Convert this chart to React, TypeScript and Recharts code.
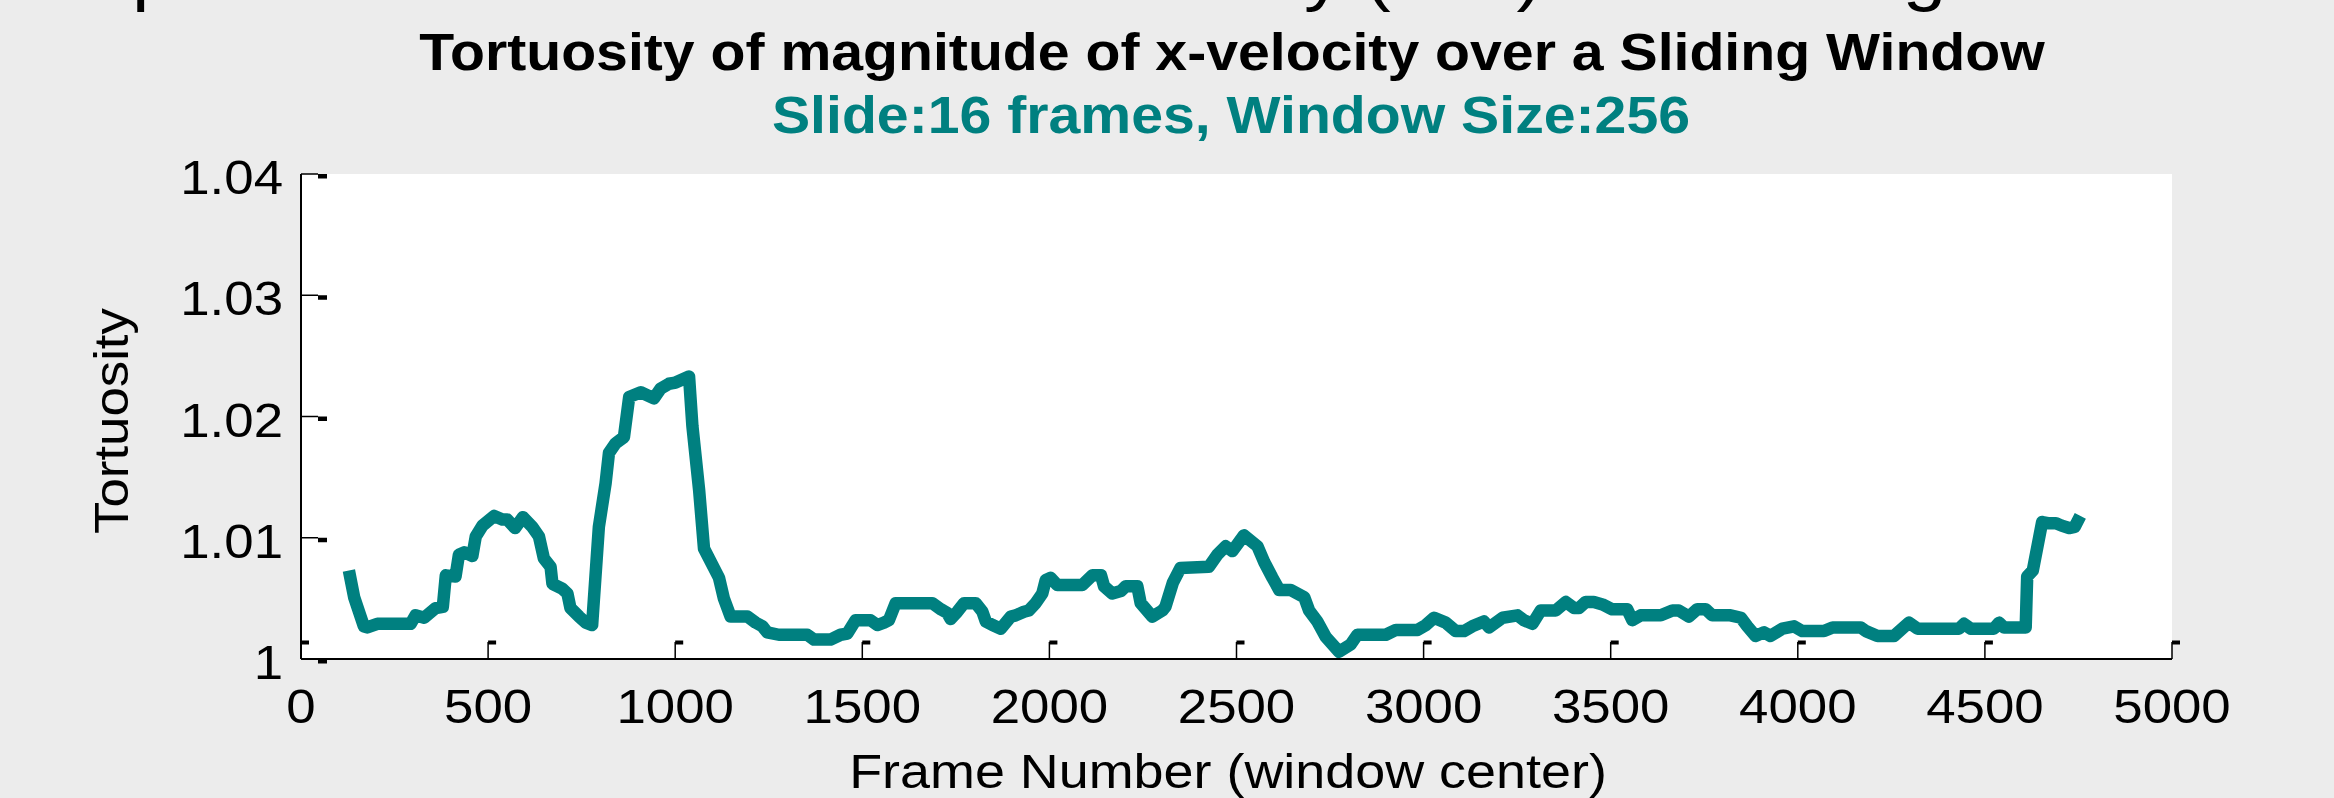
import { CartesianGrid, Line, LineChart, XAxis, YAxis } from 'recharts';

// frame number of the window centre
const frames = [
  128, 142, 168, 177, 204, 293, 306, 329, 360, 379, 387, 413, 422, 436, 458, 467, 485, 516, 538, 551,
  572, 593, 618, 636, 649, 667, 672, 698, 712, 720, 743, 761, 778, 796, 814, 823, 841, 863, 877, 908,
  943, 961, 983, 1001, 1037, 1046, 1064, 1077, 1117, 1130, 1148, 1193, 1215, 1233, 1246, 1277, 1353, 1371, 1415, 1442,
  1460, 1482, 1522, 1540, 1558, 1571, 1589, 1687, 1710, 1727, 1736, 1754, 1772, 1803, 1821, 1830, 1848, 1870, 1897, 1910,
  1932, 1945, 1963, 1981, 1990, 2003, 2021, 2088, 2115, 2138, 2146, 2168, 2191, 2204, 2235, 2244, 2275, 2302, 2310, 2330,
  2350, 2426, 2449, 2471, 2489, 2520, 2556, 2574, 2596, 2614, 2645, 2681, 2694, 2716, 2739, 2774, 2805, 2823, 2899, 2926,
  2984, 3006, 3028, 3059, 3086, 3108, 3130, 3161, 3175, 3211, 3251, 3268, 3291, 3313, 3353, 3380, 3402, 3415, 3433, 3455,
  3478, 3504, 3544, 3558, 3580, 3634, 3665, 3682, 3709, 3731, 3754, 3771, 3820, 3848, 3865, 3887, 3910, 3927, 3959, 3990,
  4012, 4070, 4093, 4168, 4182, 4213, 4257, 4297, 4320, 4431, 4444, 4462, 4524, 4538, 4551, 4609, 4613, 4628, 4653, 4668,
  4690, 4705, 4725, 4740, 4755,
];

const tortuosity = [
  1.0073, 1.0051, 1.0027, 1.0026, 1.0029, 1.0029, 1.0036, 1.0034, 1.0042, 1.0043, 1.0069, 1.0068, 1.0086, 1.0088, 1.0085, 1.0101, 1.011, 1.0118, 1.0115, 1.0115,
  1.0108, 1.0117, 1.0109, 1.0101, 1.0083, 1.0076, 1.0062, 1.0058, 1.0054, 1.0042, 1.0035, 1.003, 1.0028, 1.0109, 1.0145, 1.017, 1.0178, 1.0183, 1.0216, 1.022,
  1.0215, 1.0223, 1.0227, 1.0228, 1.0233, 1.0192, 1.0139, 1.0091, 1.0067, 1.005, 1.0035, 1.0035, 1.003, 1.0027, 1.0022, 1.002, 1.002, 1.0016, 1.0016, 1.002,
  1.0021, 1.0032, 1.0032, 1.0028, 1.003, 1.0032, 1.0046, 1.0046, 1.0041, 1.0038, 1.0033, 1.0039, 1.0046, 1.0046, 1.0039, 1.0031, 1.0028, 1.0025, 1.0035, 1.0036,
  1.0039, 1.004, 1.0046, 1.0054, 1.0065, 1.0067, 1.0061, 1.0061, 1.0069, 1.0069, 1.006, 1.0054, 1.0056, 1.006, 1.006, 1.0046, 1.0035, 1.004, 1.0043, 1.0063,
  1.0075, 1.0076, 1.0086, 1.0093, 1.0089, 1.0102, 1.0093, 1.008, 1.0067, 1.0057, 1.0057, 1.0051, 1.004, 1.0031, 1.0018, 1.0006, 1.0012, 1.002, 1.002, 1.0024,
  1.0024, 1.0028, 1.0034, 1.003, 1.0023, 1.0023, 1.0027, 1.0031, 1.0026, 1.0034, 1.0036, 1.0032, 1.0029, 1.004, 1.004, 1.0047, 1.0042, 1.0042, 1.0047, 1.0047,
  1.0045, 1.0041, 1.0041, 1.0032, 1.0036, 1.0036, 1.004, 1.004, 1.0035, 1.0041, 1.0041, 1.0036, 1.0036, 1.0034, 1.0027, 1.0019, 1.0022, 1.0019, 1.0025, 1.0027,
  1.0023, 1.0023, 1.0026, 1.0026, 1.0023, 1.0019, 1.0019, 1.003, 1.0025, 1.0025, 1.0029, 1.0025, 1.0025, 1.003, 1.0026, 1.0026, 1.0068, 1.0073, 1.0113, 1.0112,
  1.0112, 1.011, 1.0108, 1.0109, 1.0118,
];

const xTicks = [0, 500, 1000, 1500, 2000, 2500, 3000, 3500, 4000, 4500, 5000];
const yTicks = [1, 1.01, 1.02, 1.03, 1.04];
const yTickLabels = ['1', '1.01', '1.02', '1.03', '1.04'];

const data = frames.map((f, i) => ({ frame: f, t: tortuosity[i] }));

const W = 2334;
const H = 798;
const FONT = '"Liberation Sans", Arial, Helvetica, sans-serif';
const TEAL = '#008080';
const BG = '#ececec';
const TICK = 17;

function BottomTick({ x, y, payload }: any) {
  return (
    <g>
      <line x1={x} x2={x} y1={y} y2={y - TICK} stroke="#000" strokeWidth={1.5} />
      <rect x={x} y={y - TICK - 1.5} width={8} height={4} fill="#000" />
      <text transform={`translate(${x},${y + 64}) scale(1.1,1)`} textAnchor="middle" fontFamily={FONT} fontSize={48} fill="#000">
        {payload.value}
      </text>
    </g>
  );
}

function TopTick({ x, y }: any) {
  return (
    <g>
      <line x1={x} x2={x} y1={y} y2={y + TICK} stroke="#000" strokeWidth={1.5} />
      <rect x={x} y={y + TICK - 2} width={8} height={4} fill="#000" />
    </g>
  );
}

function LeftTick({ x, y, payload, index }: any) {
  const label = yTickLabels[index] ?? String(payload.value);
  return (
    <g>
      <line x1={x} x2={x + TICK} y1={y} y2={y} stroke="#000" strokeWidth={1.5} />
      <rect x={x + TICK} y={y} width={9} height={4.5} fill="#000" />
      <text transform={`translate(${x - 18},${y + 20}) scale(1.1,1)`} textAnchor="end" fontFamily={FONT} fontSize={48} fill="#000">
        {label}
      </text>
    </g>
  );
}

function RightTick({ x, y }: any) {
  return (
    <g>
      <line x1={x} x2={x - TICK} y1={y} y2={y} stroke="#000" strokeWidth={1.5} />
      <rect x={x - TICK - 9} y={y} width={9} height={4.5} fill="#000" />
    </g>
  );
}

export default function App() {
  return (
    <div style={{ position: 'absolute', left: 0, top: 0, width: W, height: H, background: BG, overflow: 'hidden' }}>
      <LineChart width={W} height={H} data={data} margin={{ top: 174, right: 162, bottom: 39, left: 151 }}>
        <CartesianGrid fill="#fff" stroke="none" horizontal={false} vertical={false} />
        <XAxis
          dataKey="frame"
          type="number"
          domain={[0, 5000]}
          ticks={xTicks}
          interval={0}
          allowDataOverflow
          height={100}
          tickSize={0}
          tickMargin={0}
          tickLine={false}
          axisLine={{ stroke: '#000', strokeWidth: 2 }}
          tick={<BottomTick />}
        />
        <XAxis
          xAxisId="top"
          orientation="top"
          type="number"
          domain={[0, 5000]}
          ticks={xTicks}
          interval={0}
          allowDataOverflow
          height={0}
          tickSize={0}
          tickMargin={0}
          tickLine={false}
          axisLine={{ stroke: '#000', strokeWidth: 2 }}
          tick={<TopTick />}
        />
        <YAxis
          type="number"
          domain={[1, 1.04]}
          ticks={yTicks}
          interval={0}
          allowDataOverflow
          width={150}
          tickSize={0}
          tickMargin={0}
          tickLine={false}
          axisLine={{ stroke: '#000', strokeWidth: 2 }}
          tick={<LeftTick />}
        />
        <YAxis
          yAxisId="right"
          orientation="right"
          type="number"
          domain={[1, 1.04]}
          ticks={yTicks}
          interval={0}
          allowDataOverflow
          width={0}
          tickSize={0}
          tickMargin={0}
          tickLine={false}
          axisLine={{ stroke: '#000', strokeWidth: 1.5 }}
          tick={<RightTick />}
        />
        <Line
          dataKey="t"
          type="linear"
          stroke={TEAL}
          strokeWidth={12.5}
          strokeLinejoin="round"
          dot={false}
          activeDot={false}
          isAnimationActive={false}
        />
      </LineChart>

      <svg width={W} height={H} style={{ position: 'absolute', left: 0, top: 0, pointerEvents: 'none' }}>
        {/* main figure title, mostly above the top edge: only descenders show */}
        <text x={0} y={0} transform="translate(80,-3) scale(1.1,1)" fontFamily={FONT} fontSize={71} fill="#000">
          Spatial Distributions of the x-Velocity (m/s) in a Sliding Window
        </text>
        <text transform="translate(1232,70) scale(1.1,1)" textAnchor="middle" fontFamily={FONT} fontSize={52} fontWeight="bold" fill="#000">
          Tortuosity of magnitude of x-velocity over a Sliding Window
        </text>
        <text transform="translate(1231,133) scale(1.1,1)" textAnchor="middle" fontFamily={FONT} fontSize={52} fontWeight="bold" fill={TEAL}>
          Slide:16 frames, Window Size:256
        </text>
        <text transform="translate(1228,788) scale(1.1,1)" textAnchor="middle" fontFamily={FONT} fontSize={49} fill="#000">
          Frame Number (window center)
        </text>
        <text transform="translate(128,421) rotate(-90) scale(1.1,1)" textAnchor="middle" fontFamily={FONT} fontSize={48} fill="#000">
          Tortuosity
        </text>
      </svg>
    </div>
  );
}
